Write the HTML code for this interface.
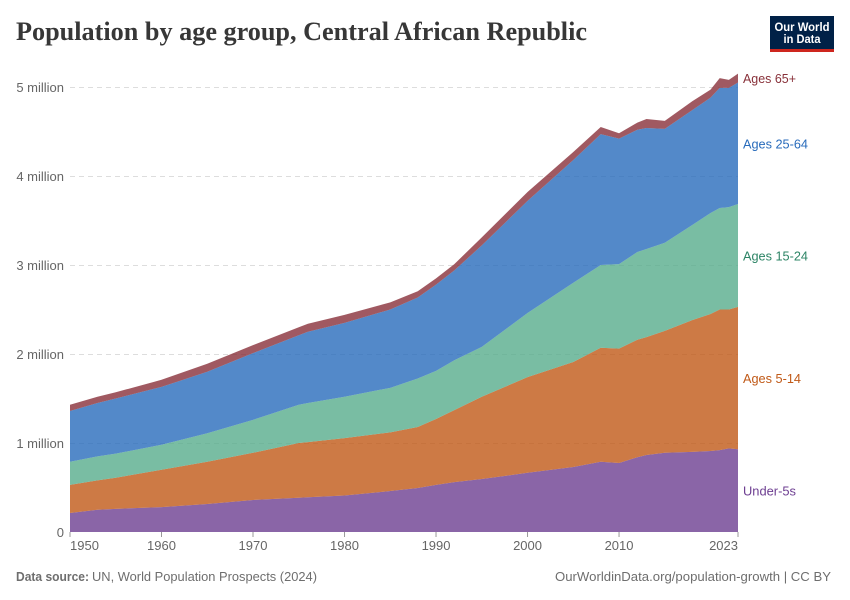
<!DOCTYPE html>
<html lang="en">
<head>
<meta charset="utf-8">
<title>Population by age group, Central African Republic</title>
<style>
html,body{margin:0;padding:0;background:#fff}
svg{display:block;font-family:"Liberation Sans",sans-serif}
</style>
</head>
<body>
<svg id="chart" width="850" height="600" viewBox="0 0 850 600" xmlns="http://www.w3.org/2000/svg">
  <text x="16" y="40" font-family="'Liberation Serif',serif" font-weight="700" font-size="26" fill="#373737" textLength="571" lengthAdjust="spacingAndGlyphs">Population by age group, Central African Republic</text>
  <g>
    <rect x="770" y="16" width="64" height="36" fill="#002147"/>
    <rect x="770" y="49" width="64" height="3" fill="#ce261e"/>
    <text x="802" y="31" text-anchor="middle" font-size="12" font-weight="700" fill="#fff" textLength="55" lengthAdjust="spacingAndGlyphs">Our World</text>
    <text x="802" y="43" text-anchor="middle" font-size="12" font-weight="700" fill="#fff" textLength="37" lengthAdjust="spacingAndGlyphs">in Data</text>
  </g>
  <g id="grid"></g>
  <g id="areas"></g>
  <g id="yaxis"></g>
  <g id="xaxis"></g>
  <g id="labels"></g>
  <text x="16" y="581" font-size="13" font-weight="700" fill="#6e6e6e" textLength="73" lengthAdjust="spacingAndGlyphs">Data source:</text>
  <text x="92" y="581" font-size="13" fill="#6e6e6e" textLength="225" lengthAdjust="spacingAndGlyphs">UN, World Population Prospects (2024)</text>
  <text x="555" y="581" font-size="13" fill="#6e6e6e" textLength="276" lengthAdjust="spacingAndGlyphs">OurWorldinData.org/population-growth | CC BY</text>
</svg>
<script>
const years = [1950,1953,1955,1960,1965,1970,1975,1976,1980,1985,1988,1990,1992,1995,2000,2005,2008,2010,2012,2013,2015,2018,2020,2021,2022,2023];
const under5 = [.213,.25,.26,.28,.315,.36,.385,.39,.41,.46,.495,.53,.56,.595,.665,.73,.79,.775,.84,.865,.89,.90,.91,.92,.94,.93];
const ages5to14 = [.317,.33,.35,.42,.475,.53,.615,.62,.645,.66,.685,.74,.81,.925,1.075,1.18,1.28,1.285,1.32,1.325,1.37,1.48,1.54,1.58,1.56,1.60];
const ages15to24 = [.26,.27,.27,.28,.32,.37,.43,.44,.465,.50,.545,.54,.56,.56,.72,.89,.93,.95,.986,.99,.99,1.07,1.135,1.14,1.15,1.155];
const ages25to64 = [.57,.60,.62,.65,.69,.75,.78,.80,.83,.88,.91,.97,1.01,1.14,1.26,1.38,1.47,1.41,1.374,1.36,1.28,1.29,1.295,1.35,1.34,1.365];
const ages65plus = [.07,.07,.07,.08,.09,.09,.09,.09,.09,.08,.07,.07,.07,.09,.10,.09,.08,.06,.08,.10,.09,.10,.09,.11,.09,.10];
const seriesNames = ["Under-5s","Ages 5-14","Ages 15-24","Ages 25-64","Ages 65+"];
const yTicks = [0,1,2,3,4,5];
const yTickLabels = ["0","1 million","2 million","3 million","4 million","5 million"];
const xTicks = [1950,1960,1970,1980,1990,2000,2010,2023];

const NS = "http://www.w3.org/2000/svg";
const fills = ["#6D3E91","#C05917","#58AC8C","#286BBB","#883039"];
const labelColors = ["#6D3E91","#C05917","#2C8465","#286BBB","#883039"];
const labelWidths = [53,58,65,65,53];
const x = v => 70 + (v - 1950) * (668 / 73);
const y = v => 532 - v * 89;

function make(tag, parent, attrs, text) {
  const el = document.createElementNS(NS, tag);
  for (const k in attrs) el.setAttribute(k, attrs[k]);
  if (text !== undefined) el.textContent = text;
  parent.appendChild(el);
  return el;
}

const gridG = document.getElementById("grid");
const yAxisG = document.getElementById("yaxis");
yTicks.forEach((t, i) => {
  if (t > 0) {
    const line = make("line", gridG, {x1: 70, x2: 738, y1: y(t) + 0.5, y2: y(t) + 0.5, stroke: "#dddddd", "stroke-dasharray": "5 4"});
    
    
  }
  const label = make("text", yAxisG, {x: 64, y: y(t) + 5, "text-anchor": "end", "font-size": 13, fill: "#666"}, yTickLabels[i]);
  
  
});

const xAxisG = document.getElementById("xaxis");
xTicks.forEach((t, i) => {
  const tick = make("line", xAxisG, {x1: x(t), x2: x(t), y1: 532, y2: 537, stroke: "#999"});
  
  
  const anchor = i === 0 ? "start" : (i === xTicks.length - 1 ? "end" : "middle");
  const label = make("text", xAxisG, {x: x(t), y: 550, "text-anchor": anchor, "font-size": 13, fill: "#666"}, String(t));
  
  
});

const allSeries = [under5, ages5to14, ages15to24, ages25to64, ages65plus];
const areasG = document.getElementById("areas");
const labelsG = document.getElementById("labels");
let base = years.map(() => 0);
allSeries.forEach((vals, s) => {
  const top = vals.map((v, i) => base[i] + v);
  const upper = years.map((yr, i) => x(yr).toFixed(2) + "," + y(top[i]).toFixed(2));
  const lower = years.map((yr, i) => x(yr).toFixed(2) + "," + y(base[i]).toFixed(2)).reverse();
  const area = make("path", areasG, {d: "M" + upper.join("L") + "L" + lower.join("L") + "Z", fill: fills[s], "fill-opacity": 0.8});
  
  
  const n = years.length - 1;
  const mid = (top[n] + base[n]) / 2;
  const label = make("text", labelsG, {x: 743, y: y(mid) + 5, "font-size": 13, fill: labelColors[s], textLength: labelWidths[s], lengthAdjust: "spacingAndGlyphs"}, seriesNames[s]);
  
  
  base = top;
});
</script>
</body>
</html>
